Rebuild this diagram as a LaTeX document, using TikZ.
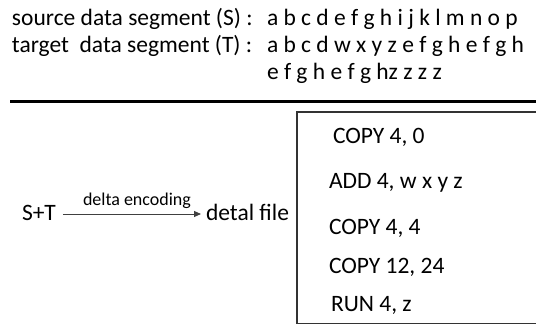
\documentclass[tikz,border=0pt]{standalone}
\usepackage{fontspec}
\setmainfont{Carlito}
\usetikzlibrary{arrows.meta}
\begin{document}
\begin{tikzpicture}[x=1pt,y=-1pt,
  txt/.style={inner sep=0pt,outer sep=0pt,anchor=base west,font=\fontsize{23.5}{27}\selectfont},
  small/.style={inner sep=0pt,font=\fontsize{18}{20}\selectfont},
  boxline/.style={draw=black!80,line width=1.4pt}]
\useasboundingbox (0,0) rectangle (536,326);
% header lines
\node[txt] (srcl) at (12,26) {source data segment (S) :};
\node[txt] (srcv) at (267,26) {a b c d e f g h i j k l m n o p};
\node[txt] (tgtl) at (12,53) {target\ \ data segment (T) :};
\node[txt] (tgtv) at (267,53) {a b c d w x y z e f g h e f g h};
\node[txt] (tgtw) at (267,80) {e f g h e f g hz z z z};
% separator
\coordinate (sepL) at (10,101.5);
\coordinate (sepR) at (536,101.5);
\draw[line width=3pt] (sepL) -- (sepR);
% arrow
\node[txt] (st) at (22,221) {S+T};
\node[txt] (df) at (206,221) {detal file};
\draw[-{Triangle[length=7pt,width=6pt]},line width=0.9pt,black!75,shorten <=7pt,shorten >=5pt]
  (st.east |- 0,214) -- node[small,above=5pt,black,xshift=6pt] (lbl) {delta encoding} (df.west |- 0,214);
% box
\coordinate (bTR) at (540,112);
\coordinate (bTL) at (297,112);
\coordinate (bBL) at (297,323.5);
\coordinate (bBR) at (540,323.5);
\draw[boxline] (bTR) -- (bTL) -- (bBL) -- (bBR);
\node[txt] (c1) at (333,144) {COPY 4, 0};
\node[txt] (c2) at (329,189) {ADD 4, w x y z};
\node[txt] (c3) at (329,234) {COPY 4, 4};
\node[txt] (c4) at (329,273) {COPY 12, 24};
\node[txt] (c5) at (331,311) {RUN 4, z};
\end{tikzpicture}
\end{document}
